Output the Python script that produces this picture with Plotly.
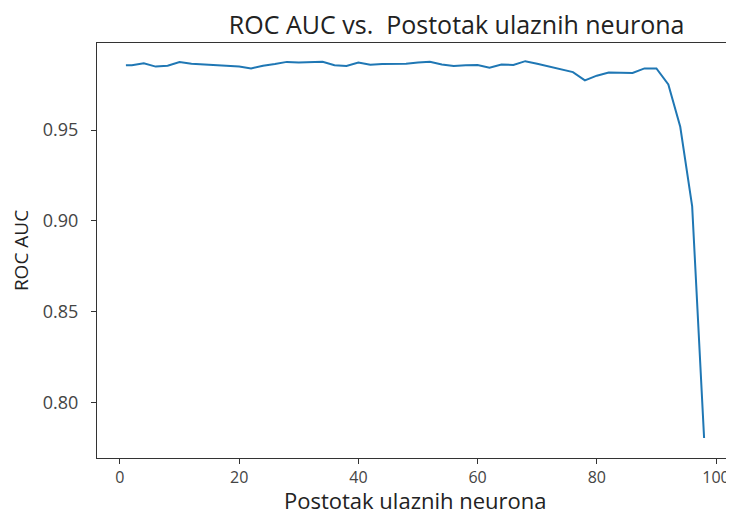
import plotly.graph_objects as go

# Postotak ulaznih neurona (x) i ROC AUC (y), procitano sa slike
postotak = [1, 2, 4, 6, 8, 10, 12, 14, 16, 18, 20, 22, 24, 26, 28, 30, 32, 34, 36, 38,
            40, 42, 44, 46, 48, 50, 52, 54, 56, 58, 60, 62, 64, 66, 68, 70, 72, 74, 76, 78,
            80, 82, 84, 86, 88, 90, 92, 94, 96, 98]
roc_auc = [0.9858, 0.9858, 0.9868, 0.9850, 0.9855, 0.9875, 0.9866, 0.9862, 0.9862, 0.9855,
           0.9850, 0.9840, 0.9855, 0.9864, 0.9876, 0.9872, 0.9874, 0.9877, 0.9858, 0.9853,
           0.9872, 0.9860, 0.9865, 0.9866, 0.9866, 0.9872, 0.9877, 0.9862, 0.9853, 0.9857,
           0.9859, 0.9844, 0.9862, 0.9859, 0.9880, 0.9866, 0.9850, 0.9835, 0.9820, 0.9774,
           0.9800, 0.9817, 0.9817, 0.9815, 0.9840, 0.9840, 0.9752, 0.9519, 0.9080, 0.7805]

x_ticks = [0, 20, 40, 60, 80, 100]
y_ticks = [0.80, 0.85, 0.90, 0.95]

fig = go.Figure()
fig.add_trace(go.Scatter(x=postotak, y=roc_auc, mode='lines',
                         line=dict(color='#1f77b4', width=2)))

axis_style = dict(showline=True, linecolor='#333333', linewidth=1, mirror=True,
                  ticks='outside', ticklen=5, tickcolor='#333333', showgrid=False,
                  zeroline=False, automargin=False)

fig.update_xaxes(range=[-3.85, 102.85], tickvals=x_ticks, ticklabelstandoff=0,
                 tickfont=dict(size=16, color='#444444'), **axis_style)
fig.update_yaxes(range=[0.7695, 0.998], tickvals=y_ticks, tickformat='.2f', ticklabelstandoff=9,
                 tickfont=dict(size=18, color='#444444'),
                 title=dict(text='ROC AUC', font=dict(size=19, color='#222222'), standoff=10),
                 **axis_style)

# x axis title as an annotation so it can sit a bit lower than plotly puts it
fig.add_annotation(text='Postotak ulaznih neurona', xref='paper', yref='paper',
                   x=0.5, y=-0.1, xanchor='center', yanchor='middle', showarrow=False,
                   font=dict(size=22, color='#222222'))

# the page puts the plot 8px in from the top-left corner, so the figure is 8px smaller
fig.update_layout(
    width=726, height=507,
    margin=dict(l=89, r=1, t=35, b=57),
    paper_bgcolor='white', plot_bgcolor='white',
    font=dict(family='Open Sans', color='#222222'),
    showlegend=False,
    title=dict(text='ROC AUC vs.  Postotak ulaznih neurona', x=0.618, xanchor='center',
               y=0.966, yanchor='middle', font=dict(size=25, color='#222222')),
)

fig.write_html("out.html")
